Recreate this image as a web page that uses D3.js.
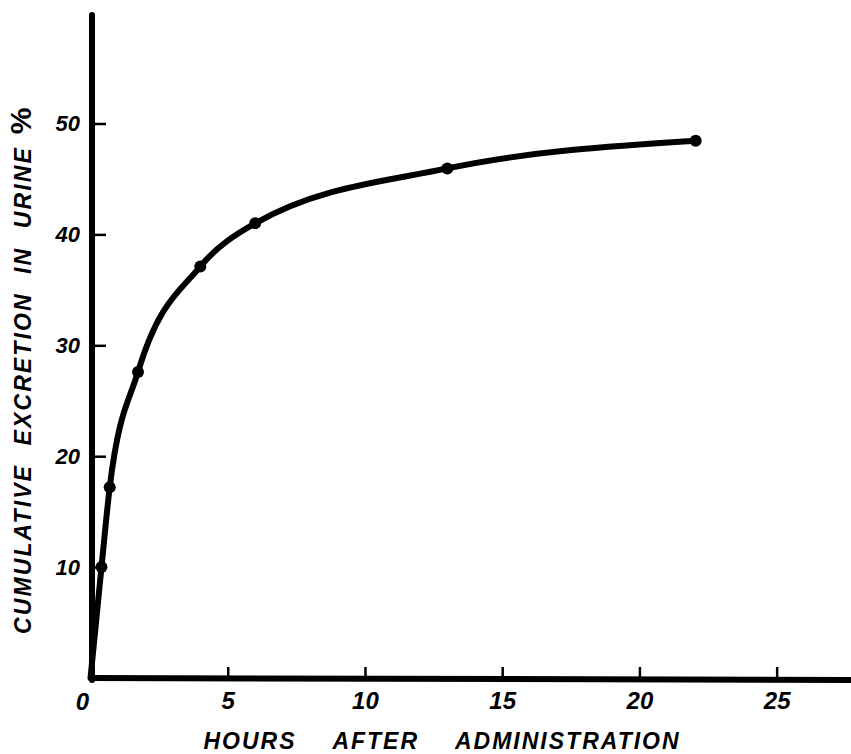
<!DOCTYPE html>
<html>
<head>
<meta charset="utf-8">
<script src="https://cdn.jsdelivr.net/npm/d3@7"></script>
<style>
  html, body { margin: 0; padding: 0; background: #fff; }
  svg { display: block; }
  text { font-family: "Liberation Sans", "DejaVu Sans", sans-serif; font-weight: bold; font-style: italic; fill: #000; }
</style>
</head>
<body>
<svg id="chart" width="851" height="754"></svg>
<script>
// Data
const hours     = [0, 0.4, 0.7, 1.73, 4.0, 6.0, 13.0, 22.05];
const excretion = [0, 10.0, 17.2, 27.6, 37.1, 41.0, 45.95, 48.45];
const markedIdx = [1, 2, 3, 4, 5, 6, 7];   // points with a dot
const xTicks = [0, 5, 10, 15, 20, 25];
const yTicks = [10, 20, 30, 40, 50];
const xTitle = "HOURS  AFTER  ADMINISTRATION";
const yTitle = "CUMULATIVE EXCRETION IN URINE";

const svg = d3.select("#chart");
const x = d3.scaleLinear().domain([0, 28]).range([90.5, 859]);
const y = d3.scaleLinear().domain([0, 50]).range([678, 123.5]);
const x0 = 92, yTop = 15, xEnd = 851;

// axes lines
svg.append("line").attr("x1", x0).attr("x2", x0).attr("y1", yTop).attr("y2", y(0) + 2)
  .attr("stroke", "#000").attr("stroke-width", 6).attr("stroke-linecap", "round");
svg.append("line").attr("x1", x0 - 3).attr("x2", xEnd).attr("y1", y(0)).attr("y2", y(0) + 2)
  .attr("stroke", "#000").attr("stroke-width", 6);

// x axis ticks (pointing up)
const xAxis = d3.axisBottom(x).tickValues(xTicks.filter(d => d > 0)).tickSizeInner(-11).tickSizeOuter(0).tickPadding(14)
  .tickFormat(d3.format("d"));
const gx = svg.append("g").attr("transform", `translate(0,${y(0)})`).call(xAxis);
gx.select(".domain").remove();
gx.selectAll(".tick line").attr("stroke", "#000").attr("stroke-width", 2.5);
gx.selectAll(".tick text").attr("font-size", 24).attr("font-family", "Liberation Sans");
svg.append("text").attr("x", x(0) - 8).attr("y", y(0) + 32).attr("text-anchor", "middle")
  .attr("font-size", 24).text(d3.format("d")(xTicks[0]));

// y axis ticks (pointing right)
const yAxis = d3.axisLeft(y).tickValues(yTicks).tickSizeInner(-14).tickSizeOuter(0).tickPadding(10)
  .tickFormat(d3.format("d"));
const gy = svg.append("g").attr("transform", `translate(${x0},0)`).call(yAxis);
gy.select(".domain").remove();
gy.selectAll(".tick line").attr("stroke", "#000").attr("stroke-width", 2.5);
gy.selectAll(".tick text").attr("font-size", 22).attr("font-family", "Liberation Sans").attr("dx", "-2");

// curve
const pts = hours.map((h, i) => [h, excretion[i]]);
const line = d3.line().x(d => x(d[0])).y(d => y(d[1])).curve(d3.curveMonotoneX);
svg.append("path").datum(pts).attr("d", line).attr("fill", "none")
  .attr("stroke", "#000").attr("stroke-width", 6).attr("stroke-linejoin", "round").attr("stroke-linecap", "round");
svg.selectAll("circle.pt").data(markedIdx.map(i => pts[i])).join("circle")
  .attr("class", "pt").attr("cx", d => x(d[0])).attr("cy", d => y(d[1])).attr("r", 6).attr("fill", "#000");

// titles
svg.append("text").attr("x", 442).attr("y", 749).attr("text-anchor", "middle")
  .attr("font-size", 23).attr("letter-spacing", 2).attr("word-spacing", 10).style("white-space", "pre").text(xTitle);

const yt = svg.append("text").attr("transform", "translate(31,634) rotate(-90)").attr("text-anchor", "start")
  .attr("font-size", 23).attr("letter-spacing", 2.1).attr("word-spacing", 10);
yt.append("tspan").text(yTitle);
yt.append("tspan").attr("dx", 12).attr("font-size", 30).attr("font-style", "normal").text("%");
</script>
</body>
</html>
